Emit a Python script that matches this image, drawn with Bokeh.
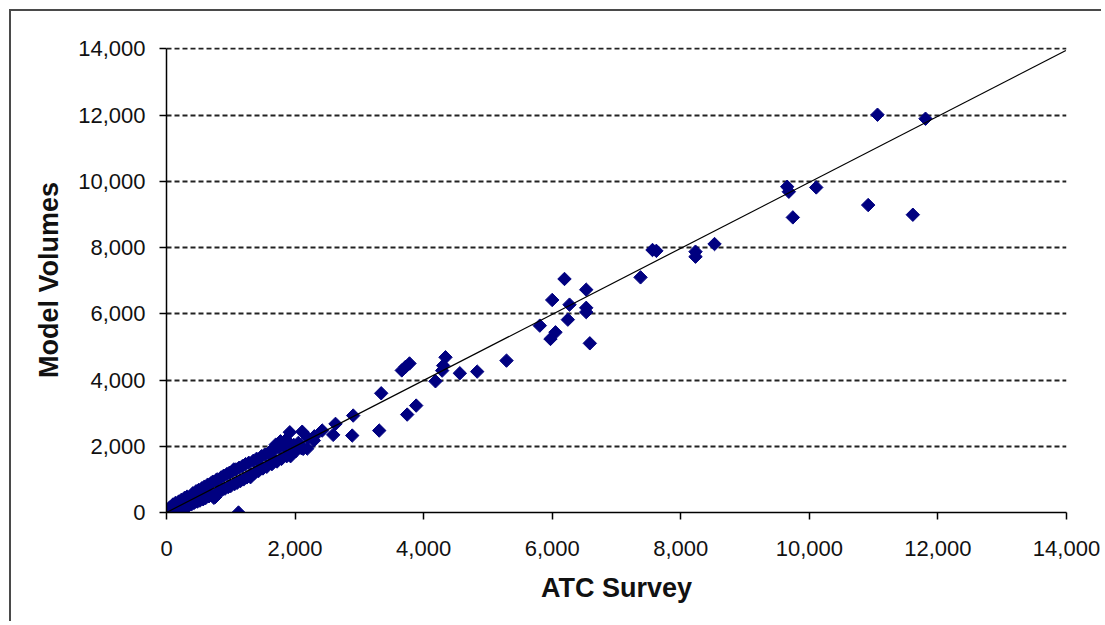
import numpy as np
from bokeh.plotting import figure
from bokeh.models import NumeralTickFormatter, FixedTicker, Range1d
from bokeh.embed import file_html
from bokeh.resources import INLINE

# ATC Survey counts (x) and Model Volumes (y)
atc_survey = [
    11060, 11807, 9655, 9681, 10107, 9743, 10915, 11610,
    8525, 8229, 8229, 7560, 7620, 7374, 6191, 6000, 6529, 6269, 6529, 6529,
    6243, 5807, 6051, 5973, 6585, 5289,
    3660, 3720, 3780, 4340, 4304, 4288, 4184, 4563, 4833, 3340, 3884, 3744,
    3309, 2889, 2904, 2629, 2593, 2422, 2292, 2111, 2126, 1918,
    30, 50, 70, 100, 120, 140, 160, 190, 210, 230, 250, 280, 300, 320, 340,
    373, 390, 410, 430, 460, 477, 480, 500, 520, 550, 570, 590, 610, 640, 660,
    690, 700, 720, 737, 760, 770, 789, 790, 820, 850, 870, 890, 910, 940, 960,
    980, 1000, 1030, 1047, 1060, 1080, 1100, 1120, 1130, 1150, 1180, 1200,
    1230, 1250, 1280, 1307, 1320, 1350, 1370, 1400, 1411, 1430, 1462, 1480,
    1500, 1530, 1560, 1590, 1618, 1640, 1669, 1680, 1700, 1720, 1750, 1773,
    1790, 1810, 1824, 1850, 1870, 1900, 1930, 1950, 1980, 2010, 2050, 2100,
    2190, 2200, 2300,
]
model_volumes = [
    12010, 11890, 9836, 9685, 9815, 8910, 9283, 8991,
    8106, 7875, 7724, 7926, 7900, 7100, 7051, 6417, 6728, 6276, 6180, 6050,
    5823, 5642, 5440, 5240, 5108, 4586,
    4290, 4400, 4500, 4687, 4435, 4284, 3962, 4204, 4254, 3600, 3228, 2957,
    2474, 2323, 2927, 2676, 2344, 2474, 2172, 2440, 1921, 2423,
    60, 150, 20, 240, 30, 290, 60, 330, 90, 380, 130, 440, 170, 480, 200,
    422, 250, 580, 290, 640, 613, 330, 680, 360, 730, 400, 780, 440, 840, 490,
    880, 530, 930, 443, 470, 970, 1000, 600, 650, 1060, 690, 1110, 720, 1160, 770,
    1200, 800, 1250, 1300, 860, 1300, 900, 0, 1350, 950, 1400, 1000,
    1460, 1060, 1500, 1066, 1150, 1560, 1190, 1620, 1600, 1250, 1330, 1700,
    1330, 1750, 1380, 1800, 1850, 1460, 1580, 1900, 2050, 1540, 1960, 2150,
    1620, 2060, 2000, 2180, 1700, 2120, 1700, 1820, 2040, 1850, 2100, 1940,
    1930, 2250, 2300,
]
trend_x = [0, 13990]
trend_y = [0, 13950]
axis_ticks = [0, 2000, 4000, 6000, 8000, 10000, 12000, 14000]

p = figure(
    width=1092, height=612,
    x_range=Range1d(0, 14000), y_range=Range1d(0, 14040),
    output_backend="svg", toolbar_location=None,
    min_border_left=155, min_border_right=37,
    min_border_top=36, min_border_bottom=111,
)
p.styles = {"border-top": "2px solid #4a4a4a", "border-left": "2px solid #4a4a4a",
            "margin-top": "9px", "margin-left": "9px"}
p.outline_line_color = None
p.background_fill_color = "white"
p.border_fill_color = "white"

p.scatter(atc_survey, model_volumes, marker="square", angle=np.pi / 4, size=9.5,
          fill_color="#000080", line_color="#000080", line_width=1)
p.line(trend_x, trend_y, line_color="black", line_width=1.2)

for ax in (p.xaxis[0], p.yaxis[0]):
    ax.ticker = FixedTicker(ticks=axis_ticks)
    ax.formatter = NumeralTickFormatter(format="0,0")
    ax.minor_tick_line_color = None
    ax.major_tick_in = 0
    ax.major_tick_out = 7
    ax.axis_line_color = "black"
    ax.axis_line_width = 1.5
    ax.major_tick_line_color = "black"
    ax.major_tick_line_width = 1.5
    ax.major_label_text_font = "Liberation Sans"
    ax.major_label_text_font_size = "22px"
    ax.major_label_text_color = "#111111"
    ax.axis_label_text_font = "Liberation Sans"
    ax.axis_label_text_font_style = "bold"
    ax.axis_label_text_font_size = "27px"
    ax.axis_label_text_color = "#111111"

p.yaxis.bounds = (0, 14000)
p.xaxis.axis_label = "ATC Survey"
p.yaxis.axis_label = "Model Volumes"
p.yaxis.major_label_standoff = 14
p.xaxis.major_label_standoff = 21
p.yaxis.axis_label_standoff = 11
p.xaxis.axis_label_standoff = 14

p.xgrid.grid_line_color = None
p.ygrid.ticker = FixedTicker(ticks=axis_ticks[1:])
p.ygrid.grid_line_color = "#222222"
p.ygrid.grid_line_width = 2
p.ygrid.grid_line_dash = "5 3"

open("out.html", "w").write(file_html(p, INLINE))
